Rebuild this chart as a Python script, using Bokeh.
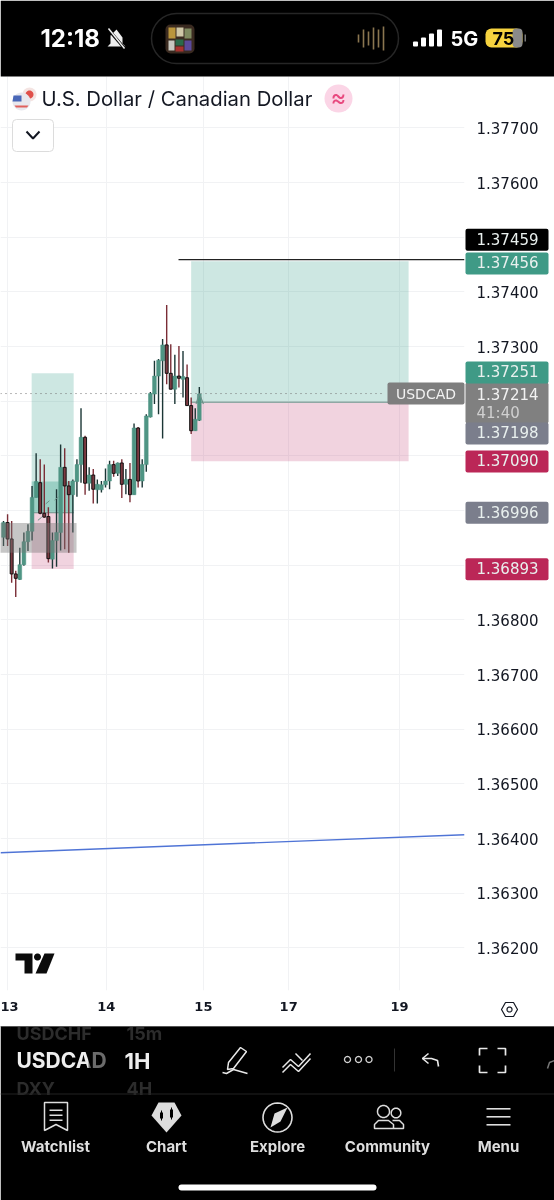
import math
from bokeh.embed import file_html
from bokeh.resources import INLINE
from bokeh.plotting import figure
from bokeh.layouts import column
from bokeh.models import (Range1d, LinearAxis, FixedTicker, Grid, Label, BoxAnnotation,
                          PolyAnnotation, ColumnDataSource, NumeralTickFormatter)

# ---- data ----
open_ = [1.36951,1.36978,1.36948,1.36884,1.36874,1.36901,1.36943,1.36962,1.37024,1.37051,1.36995,1.36989,1.36911,1.36945,1.36960,1.37079,1.37045,1.37029,1.37053,1.37084,1.37134,1.37050,1.37065,1.37038,1.37038,1.37047,1.37054,1.37084,1.37068,1.37087,1.37048,1.37057,1.37029,1.37151,1.37054,1.37084,1.37171,1.37213,1.37246,1.37274,1.37303,1.37251,1.37222,1.37246,1.37240,1.37243,1.37192,1.37146,1.37165]
high  = [1.36981,1.36993,1.36981,1.36890,1.36932,1.36960,1.36975,1.37045,1.37105,1.37094,1.37084,1.37006,1.36960,1.37039,1.37121,1.37114,1.37054,1.37057,1.37094,1.37187,1.37137,1.37079,1.37076,1.37057,1.37054,1.37077,1.37091,1.37091,1.37088,1.37094,1.37076,1.37087,1.37159,1.37153,1.37094,1.37176,1.37217,1.37274,1.37277,1.37314,1.37376,1.37304,1.37285,1.37301,1.37292,1.37267,1.37207,1.37187,1.37226]
low   = [1.36935,1.36935,1.36868,1.36842,1.36873,1.36899,1.36926,1.36945,1.37024,1.36993,1.36987,1.36905,1.36894,1.36897,1.36927,1.36929,1.36923,1.36960,1.37025,1.37051,1.37029,1.37036,1.37013,1.37013,1.37033,1.37042,1.37039,1.37062,1.37063,1.37023,1.37030,1.37015,1.37029,1.37042,1.37042,1.37071,1.37170,1.37195,1.37176,1.37132,1.37231,1.37222,1.37195,1.37225,1.37207,1.37192,1.37140,1.37146,1.37164]
close = [1.36978,1.36948,1.36884,1.36876,1.36901,1.36943,1.36962,1.37024,1.37053,1.36995,1.36988,1.36912,1.36945,1.36960,1.37079,1.37045,1.37029,1.37054,1.37084,1.37134,1.37050,1.37065,1.37039,1.37048,1.37047,1.37054,1.37084,1.37068,1.37087,1.37048,1.37057,1.37029,1.37151,1.37054,1.37084,1.37173,1.37214,1.37246,1.37275,1.37303,1.37251,1.37222,1.37246,1.37242,1.37245,1.37192,1.37146,1.37167,1.37213]

price_ticks = [1.377,1.376,1.375,1.374,1.373,1.372,1.371,1.370,1.369,1.368,1.367,1.366,1.365,1.364,1.363,1.362]
hidden_price_ticks = [1.375,1.372,1.371,1.370,1.369]
day_labels = ["13","14","15","17","19"]
day_bar_pos = [1.1,25.2,49.0,69.9,97.1]

tag_values = [1.37459,1.37456,1.37251,1.37198,1.37090,1.36996,1.36893]
tag_colors = ["#000000","#3f9a86","#3f9a86","#7b7e8c","#bb2757","#7b7e8c","#bb2757"]
tag_shift  = [20,-2,1,-31,0,0,0]
current_price = 1.37214
countdown = "41:40"
symbol = "USDCAD"

big_long = dict(x0=46.0, x1=99.3, tp=1.37456, entry=1.37198, sl=1.37090)
small_long = dict(x0=6.9, x1=17.2, tp=1.37251, entry=1.36996, sl=1.36893)
small_zone = dict(x0=6.9, x1=17.2, top=1.37053, bottom=1.36996)
gray_zone = dict(x0=-1.0, x1=17.9, top=1.36977, bottom=1.36923)
res_line = dict(x0=42.9, x1=113.0, y=1.37459)
trend_x = [-0.74, 113.0]
trend_y = [1.36374, 1.36407]
arrow_x = [8.9, 10.8, 13.0]
arrow_y = [1.36985, 1.37015, 1.37022]

W, H = 554, 1200
GREEN, DARKG, RED, REDW = "#4f9584", "#1b3635", "#7c3a42", "#7a2d36"
FONT = "Inter"
NUM = "DejaVu Sans"
TEXT = "#131722"
FIXED = {"position": "fixed", "left": "0", "top": "0"}

# ---- chart figure: pane and axes ----
p = figure(width=W, height=H, output_backend="svg", toolbar_location=None,
           x_range=Range1d(-0.735, 113.0), y_range=Range1d(1.36122, 1.37794),
           x_axis_type=None, y_axis_type=None, frame_align=False,
           min_border_left=0, min_border_right=90, min_border_top=76, min_border_bottom=210,
           outline_line_color=None, background_fill_color="#ffffff", border_fill_color="#ffffff",
           styles=FIXED)

ry = LinearAxis(ticker=FixedTicker(ticks=[t for t in price_ticks if t not in hidden_price_ticks]),
                formatter=NumeralTickFormatter(format="0.00000"),
                major_tick_line_color=None, minor_tick_line_color=None, axis_line_color=None,
                major_tick_out=0, major_tick_in=0,
                major_label_text_font=NUM, major_label_text_font_size="15px",
                major_label_text_color=TEXT, major_label_standoff=12)
p.add_layout(ry, "right")
bx = LinearAxis(ticker=FixedTicker(ticks=day_bar_pos),
                major_label_overrides={b: l for b, l in zip(day_bar_pos, day_labels)},
                major_tick_line_color=None, minor_tick_line_color=None, axis_line_color=None,
                major_tick_out=0, major_tick_in=0,
                major_label_text_font=NUM, major_label_text_font_size="13px",
                major_label_text_font_style="bold", major_label_text_color=TEXT, major_label_standoff=11)
p.add_layout(bx, "below")
p.add_layout(Grid(dimension=0, ticker=FixedTicker(ticks=day_bar_pos), grid_line_color="#f1f2f4"))
p.add_layout(Grid(dimension=1, ticker=FixedTicker(ticks=price_ticks), grid_line_color="#f1f2f4"))

# position boxes
GB, PB = "#2e9c86", "#c8507e"
for b in (big_long, small_long):
    p.quad(left=b["x0"], right=b["x1"], top=b["tp"], bottom=b["entry"], fill_color=GB, fill_alpha=0.24, line_color=None)
    p.quad(left=b["x0"], right=b["x1"], top=b["entry"], bottom=b["sl"], fill_color=PB, fill_alpha=0.25, line_color=None)
p.quad(left=small_zone["x0"], right=small_zone["x1"], top=small_zone["top"], bottom=small_zone["bottom"],
       fill_color=GB, fill_alpha=0.32, line_color=None)
p.segment(x0=[big_long["x0"]], x1=[big_long["x1"]], y0=[big_long["entry"]], y1=[big_long["entry"]], line_color="#8fa8a4", line_width=1.5)
p.segment(x0=[small_long["x0"]], x1=[small_long["x1"]], y0=[small_long["entry"]], y1=[small_long["entry"]], line_color="#6f8f88", line_width=1.2)

p.segment(x0=[-0.735], x1=[93], y0=[current_price], y1=[current_price], line_color="#707070", line_width=1, line_dash="1 4")
p.segment(x0=[res_line["x0"]], x1=[res_line["x1"]], y0=[res_line["y"]], y1=[res_line["y"]], line_color="#222222", line_width=1.3)
p.line(trend_x, trend_y, line_color="#4f74d6", line_width=1.4)

# candles
idx = list(range(len(open_)))
up = [i for i in idx if close[i] >= open_[i]]
dn = [i for i in idx if close[i] < open_[i]]
src_up = ColumnDataSource(dict(x=up, h=[high[i] for i in up], l=[low[i] for i in up],
                               t=[close[i] for i in up], b=[open_[i] for i in up]))
src_dn = ColumnDataSource(dict(x=dn, h=[high[i] for i in dn], l=[low[i] for i in dn],
                               t=[open_[i] for i in dn], b=[close[i] for i in dn]))
p.segment("x", "h", "x", "l", source=src_up, line_color=DARKG, line_width=1.4)
p.segment("x", "h", "x", "l", source=src_dn, line_color=REDW, line_width=1.4)
p.vbar("x", 0.92, "t", "b", source=src_up, fill_color=GREEN, line_color=GREEN, line_width=0.5)
p.vbar("x", 0.72, "t", "b", source=src_dn, fill_color=RED, line_color="#111111", line_width=1)

p.scatter(arrow_x, arrow_y, marker="dash", size=5, angle=0.7, line_color="#6d8f88", line_width=1)
p.line([47.2, 48.0, 49.0], [1.37195, 1.37214, 1.37195], line_color="#6d8f88", line_width=1.2)

p.quad(left=gray_zone["x0"], right=gray_zone["x1"], top=gray_zone["top"], bottom=gray_zone["bottom"],
       fill_color="#777777", fill_alpha=0.42, line_color=None)

# ---- overlay figure: the full canvas, for the price tags and the phone chrome ----
PX_PER_PRICE = 54650
Y_0 = 127.6
c = figure(width=W, height=H, output_backend="svg", toolbar_location=None,
           x_range=Range1d(0, W), y_range=Range1d(H, 0), x_axis_type=None, y_axis_type=None, frame_align=False,
           min_border=0, outline_line_color=None, background_fill_alpha=0, border_fill_alpha=0,
           styles=FIXED)
c.extra_y_ranges = {"price": Range1d(1.377 - (H - Y_0) / PX_PER_PRICE, 1.377 + Y_0 / PX_PER_PRICE)}


def box(l, t, r, b, col, alpha=1.0, radius=0, lc=None, lw=1):
    c.add_layout(BoxAnnotation(left=l, right=r, top=t, bottom=b, left_units="canvas", right_units="canvas",
                               top_units="canvas", bottom_units="canvas", fill_color=col, fill_alpha=alpha,
                               line_color=lc, line_alpha=1, line_width=lw, border_radius=radius, level="annotation", editable=False))

def poly(pts, col=None, lc=None, lw=1.5):
    c.add_layout(PolyAnnotation(xs=[a for a, _ in pts], ys=[b for _, b in pts], xs_units="canvas", ys_units="canvas",
                                fill_color=col if col else "#000000", fill_alpha=1 if col else 0,
                                line_color=lc, line_alpha=1, line_width=lw, level="annotation"))

def line(pts, lc, lw=1.5):
    poly(pts + pts[-2:0:-1], None, lc, lw)

def circle(cx, cy, r, col=None, lc=None, lw=1.5):
    poly([(cx + r * math.cos(k * math.pi / 16), cy + r * math.sin(k * math.pi / 16)) for k in range(32)], col, lc, lw)

def text(x, y, s, size, color, bold=False, align="left", font=FONT):
    c.add_layout(Label(x=x, y=y, x_units="canvas", y_units="canvas", text=s, text_font=font,
                       text_font_size=f"{size}px", text_color=color, text_font_style="bold" if bold else "normal",
                       text_align=align, text_baseline="middle"))

def price_text(x, v, s, size, color, shift=0, align="left"):
    c.add_layout(Label(x=x, y=v, x_units="canvas", y_range_name="price", y_offset=shift, text=s, text_font=NUM,
                       text_font_size=f"{size}px", text_color=color, text_baseline="middle", text_align=align))


# price tags
box(465, 382, 548, 423, "#808080", radius=2)
for v, col, s in zip(tag_values, tag_colors, tag_shift):
    yc = Y_0 + (1.377 - v) * PX_PER_PRICE - s
    box(465, yc - 11, 548, yc + 11, col, radius=2)
    price_text(476, v, f"{v:.5f}", 15, "#e9f0ee", s + 1)
price_text(476, current_price, f"{current_price:.5f}", 15, "#f2f2f2")
text(476, 412, countdown, 15, "#d0d0d0", font=NUM)
box(387, 382, 464, 404, "#7e7e7e", radius=2)
price_text(425.5, current_price, symbol, 14, "#f2f2f2", align="center")

# title row
circle(29, 94, 7, "#f4e4e2")
circle(29, 94, 4, "#e0504a")
circle(21, 101, 9, "#e8e8ee")
poly([(13, 95), (21, 95), (21, 101), (12, 101)], "#4a68b8")
poly([(14, 105), (28, 105), (26.5, 107), (15.5, 107)], "#e0605c")
text(41, 98, "U.S. Dollar / Canadian Dollar", 20.3, TEXT)
circle(338, 98, 14, "#fbd5e6")
text(338, 97, "≈", 24, "#e8497f", align="center")
box(12, 119, 53, 151, "#ffffff", radius=4, lc="#dcdcdc")
line([(26, 131), (32.5, 138), (39, 131)], "#131722", 2)

# TradingView logo and scale settings
poly([(15, 953), (32, 953), (32, 973), (24, 973), (24, 960), (15, 960)], "#0b0b0b")
circle(37, 956.5, 3.5, "#0b0b0b")
poly([(44, 953), (54, 953), (46, 973), (35, 973)], "#0b0b0b")
poly([(501, 1009), (505, 1002), (513, 1002), (517, 1009), (513, 1016), (505, 1016)], None, "#131722", 1.2)
circle(509, 1009, 2.5, None, "#131722", 1.2)

# status bar
box(0, 0, 554, 76, "#000000")
text(40, 38, "12:18", 24, "#ffffff", bold=True)
poly([(116, 29), (122, 37), (122, 43), (125, 46), (107, 46), (110, 43), (110, 35)], "#eeeeee")
line([(107, 28), (125, 49)], "#000000", 3)
line([(108, 28), (124, 48)], "#eeeeee", 1.5)
box(151, 13, 398, 63, "#000000", radius=25, lc="#262626", lw=1.5)
box(165, 24, 194, 53, "#3a2a20", radius=5)
box(168, 27, 175, 38, "#b9953c")
box(176, 27, 183, 36, "#d0c8a8")
box(184, 28, 191, 38, "#7f8a60")
box(168, 40, 174, 50, "#c8c8c0")
box(175, 39, 183, 45, "#2a6a4a")
box(175, 46, 183, 51, "#a8322e")
box(184, 40, 191, 50, "#5b4a9c")
for xb, h_ in zip([358, 363, 368, 373, 378, 383], [4, 9, 7, 11, 9, 12]):
    box(xb - 0.8, 38 - h_, xb + 0.8, 38 + h_, "#8a7650")
for xb, top in zip([415, 423, 431, 439], [41, 37, 33, 29]):
    box(xb - 2.5, top, xb + 2.5, 46, "#ffffff", radius=1)
text(450, 38, "5G", 20, "#ffffff", bold=True)
box(485, 28, 522, 47, "#f6d33f", radius=6)
box(512, 28, 522, 47, "#8a8a8a", radius=4)
box(524, 34, 525.5, 41, "#777777")
text(492, 38, "75", 18, "#000000", bold=True)

# bottom bars
box(0, 1026, 554, 1200, "#000000")
box(0, 1025.5, 554, 1026.5, "#555555")
text(16, 1060, symbol, 21, "#eeeeee", bold=True)
box(88, 1046, 106, 1074, "#000000", alpha=0.55)
text(16, 1033, "USDCHF", 18, "#2c2c2c", bold=True)
text(16, 1088, "DXY", 18, "#2c2c2c", bold=True)
text(124, 1060, "1H", 22, "#eeeeee", bold=True)
text(126, 1033, "15m", 18, "#2c2c2c", bold=True)
text(126, 1088, "4H", 18, "#2c2c2c", bold=True)
box(0, 1093, 554, 1094, "#222222")
IC = "#e8e8e8"
poly([(240, 1047), (246, 1051), (233, 1068), (227, 1069), (228, 1062)], None, IC, 1.5)
line([(222, 1072), (226, 1073), (233, 1069), (240, 1071), (247, 1073)], IC, 1.5)
line([(282, 1067), (290, 1059), (298, 1066), (310, 1053)], IC, 1.5)
line([(282, 1072), (290, 1064), (298, 1071), (310, 1058)], IC, 1.5)
line([(295, 1053), (302, 1060)], IC, 1.5)
for xc in [347, 358, 368.5]:
    circle(xc, 1059, 3, None, "#cfcfcf", 1.3)
box(393.5, 1048, 394.5, 1071, "#333333")
line([(438, 1066), (437, 1060), (431, 1058), (422, 1058)], IC, 1.6)
line([(428, 1053), (422, 1058), (428, 1063)], IC, 1.6)
for pts in ([(479, 1055), (479, 1048), (487, 1048)], [(497, 1048), (505, 1048), (505, 1055)],
            [(505, 1065), (505, 1072), (497, 1072)], [(487, 1072), (479, 1072), (479, 1065)]):
    line(pts, IC, 1.7)
line([(547, 1068), (549, 1062), (554, 1060)], "#777777", 1.5)

NC = "#dedede"
poly([(44, 1102), (67, 1102), (67, 1130), (55.5, 1124), (44, 1130)], None, NC, 1.5)
for yy in [1109, 1114, 1119]:
    box(49, yy, 62, yy + 1.5, NC)
poly([(158, 1102), (174, 1102), (181, 1115), (166, 1132), (151, 1115)], "#dddddd")
for xc, t_, b_ in [(161, 1112, 1118), (171, 1109, 1117)]:
    box(xc - 0.5, t_ - 2, xc + 0.5, b_ + 2, "#000000")
    box(xc - 1.5, t_, xc + 1.5, b_, "#000000")
circle(277, 1117, 14.5, None, NC, 1.6)
poly([(287, 1107), (280, 1121), (270, 1127), (274, 1113)], NC)
circle(383, 1111, 6, None, NC, 1.5)
circle(395.5, 1112.5, 4.8, None, NC, 1.5)
poly([(374, 1128), (374, 1124), (378, 1120), (388, 1120), (393, 1124), (393, 1128)], None, NC, 1.5)
line([(392, 1120), (399, 1120), (403, 1124), (403, 1128), (393, 1128)], NC, 1.5)
for yy in [1107.5, 1115.5, 1123.5]:
    box(486, yy, 510, yy + 1.6, NC)
for xc, s in zip([55, 166, 277, 387, 498], ["Watchlist", "Chart", "Explore", "Community", "Menu"]):
    text(xc, 1146, s, 15, "#dedede", bold=True, align="center")
box(178, 1184, 376, 1190, "#ffffff", radius=3)

page = column(p, c)
open("out.html", "w").write(file_html(page, INLINE))
